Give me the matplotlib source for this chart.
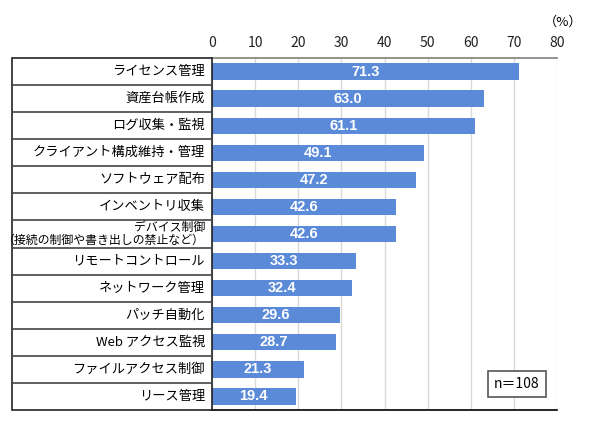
import matplotlib
matplotlib.use("Agg")
import matplotlib.pyplot as plt
import matplotlib.transforms as mtransforms
from matplotlib.patches import Rectangle

plt.rcParams['font.family'] = ['Noto Sans CJK JP', 'DejaVu Sans']

categories = [
    "ライセンス管理",
    "資産台帳作成",
    "ログ収集・監視",
    "クライアント構成維持・管理",
    "ソフトウェア配布",
    "インベントリ収集",
    "デバイス制御\n（接続の制御や書き出しの禁止など）",
    "リモートコントロール",
    "ネットワーク管理",
    "パッチ自動化",
    "Web アクセス監視",
    "ファイルアクセス制御",
    "リース管理",
]
values = [71.3, 63.0, 61.1, 49.1, 47.2, 42.6, 42.6, 33.3, 32.4, 29.6, 28.7, 21.3, 19.4]
xticks = [0, 10, 20, 30, 40, 50, 60, 70, 80]
note = "n＝108"
unit = "（%）"

W, H = 590, 434
fig = plt.figure(figsize=(W / 100, H / 100), dpi=100)
ax = fig.add_axes([212 / W, 1 - 410 / H, (557 - 212) / W, (410 - 58) / H])

n = len(categories)
ypos = list(range(n))
ax.barh(ypos, values, height=0.6, color="#5b8ad8", zorder=3)
ax.set_ylim(n - 0.5, -0.5)
ax.set_xlim(0, 80)
ax.set_xticks(xticks)
ax.xaxis.tick_top()
ax.tick_params(axis='x', length=0, labelsize=10, pad=6, colors="#222222")
ax.set_yticks(ypos)
ax.set_yticklabels([])
ax.tick_params(axis='y', length=0)
ax.grid(axis='x', color="#d9d9d9", linewidth=1, zorder=0)

for s in ["left", "right"]:
    ax.spines[s].set_visible(False)
ax.spines["top"].set_color("#7f7f7f")
ax.spines["top"].set_linewidth(1.2)
ax.spines["bottom"].set_color("#000000")
ax.spines["bottom"].set_linewidth(1.2)

for y, v in zip(ypos, values):
    ax.text(v / 2, y, f"{v:.1f}", ha="center", va="center", color="white",
            fontsize=10.5, fontweight="bold", family="Liberation Sans", zorder=4)

# label table
trans = mtransforms.blended_transform_factory(fig.transFigure, ax.transData)
x0, x1 = 12 / W, 212 / W
box = Rectangle((x0, -0.5), x1 - x0, n, transform=trans, fill=False,
                edgecolor="#222222", linewidth=1.2, clip_on=False)
fig.add_artist(box)
for i in range(1, n):
    fig.add_artist(plt.Line2D([x0, x1], [i - 0.5, i - 0.5], transform=trans,
                              color="#444444", linewidth=1.2))
for y, c in zip(ypos, categories):
    if "\n" in c:
        fig.text(205 / W, y, c, transform=trans, ha="right", va="center",
                 fontsize=8.6, linespacing=0.92, multialignment="right")
    else:
        fig.text(205 / W, y, c, transform=trans, ha="right", va="center",
                 fontsize=9.5)

fig.text(563 / W, 1 - 22 / H, unit, ha="center", va="center", fontsize=9.5)

# n note box
fig.text(517 / W, 1 - 384 / H, note, ha="center", va="center", fontsize=10,
         bbox=dict(boxstyle="square,pad=0.45", facecolor="white",
                   edgecolor="#555555", linewidth=1.2), zorder=5)

fig.savefig("out.png", dpi=100)
